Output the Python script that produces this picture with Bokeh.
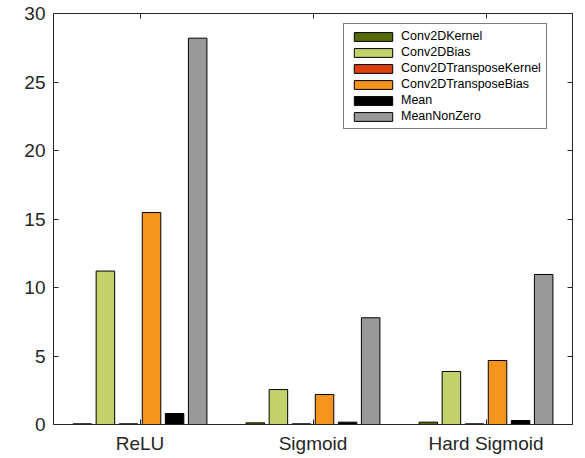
from bokeh.plotting import figure
from bokeh.models import (Range1d, LinearAxis, FixedTicker, Legend, LegendItem, ColumnDataSource)
from bokeh.embed import file_html
from bokeh.resources import INLINE

categories = ["ReLU", "Sigmoid", "Hard Sigmoid"]
series_names = ["Conv2DKernel", "Conv2DBias", "Conv2DTransposeKernel",
                "Conv2DTransposeBias", "Mean", "MeanNonZero"]
conv2d_kernel = [0.05, 0.12, 0.17]
conv2d_bias = [11.2, 2.55, 3.87]
conv2d_transpose_kernel = [0.05, 0.05, 0.05]
conv2d_transpose_bias = [15.47, 2.19, 4.67]
mean_vals = [0.8, 0.17, 0.29]
mean_nonzero = [28.2, 7.79, 10.95]
colors = ["#566b06", "#c3d16a", "#dd3f0f", "#f7941d", "#000000", "#999999"]

series = [conv2d_kernel, conv2d_bias, conv2d_transpose_kernel,
          conv2d_transpose_bias, mean_vals, mean_nonzero]

AX = "#262626"
FONT = "Liberation Sans"

p = figure(width=580, height=456, output_backend="svg", toolbar_location=None,
           x_range=Range1d(0.5, 3.5), y_range=Range1d(0, 30),
           min_border_left=53, min_border_top=13, min_border_right=8, min_border_bottom=32,
           x_axis_location=None, y_axis_location=None)
p.outline_line_color = None
p.xgrid.visible = False
p.ygrid.visible = False
p.background_fill_color = "white"
p.border_fill_color = "white"

n = len(series)
step = 0.1333
bw = 0.107
items = []
for i, (vals, name, col) in enumerate(zip(series, series_names, colors)):
    xs = [k + 1 + (i - (n - 1) / 2) * step for k in range(len(categories))]
    src = ColumnDataSource(dict(x=xs, top=vals))
    r = p.vbar(x="x", top="top", bottom=0, width=bw, source=src,
               fill_color=col, line_color="#000000", line_width=1)
    items.append(LegendItem(label=name, renderers=[r]))

def mk_axis(kind, loc, labels):
    if kind == "x":
        ax = LinearAxis(ticker=FixedTicker(ticks=[1, 2, 3]))
        ax.major_label_overrides = {1: categories[0], 2: categories[1], 3: categories[2]}
    else:
        ax = LinearAxis(ticker=FixedTicker(ticks=[0, 5, 10, 15, 20, 25, 30]))
    ax.axis_line_color = AX
    ax.axis_line_width = 1
    ax.major_tick_line_color = AX
    ax.major_tick_in = 5
    ax.major_tick_out = 0
    ax.minor_tick_line_color = None
    ax.major_label_text_font = FONT
    ax.major_label_text_font_size = "19px" if labels else "0px"
    ax.major_label_text_color = AX
    ax.major_label_standoff = 8 if labels else 0
    if not labels:
        ax.major_label_text_alpha = 0
    p.add_layout(ax, loc)
    return ax

mk_axis("x", "below", True)
mk_axis("x", "above", False)
mk_axis("y", "left", True)
mk_axis("y", "right", False)

legend = Legend(items=items, location=(290, 295))
legend.label_text_font = FONT
legend.label_text_font_size = "12.5px"
legend.label_text_color = "#000000"
legend.glyph_width = 48
legend.glyph_height = 11
legend.label_height = 12
legend.label_standoff = 4
legend.spacing = 2
legend.padding = 5
legend.margin = 0
legend.border_line_color = "#000000"
legend.border_line_width = 1
legend.background_fill_alpha = 1
p.add_layout(legend, "center")

open("out.html", "w").write(file_html(p, INLINE))
